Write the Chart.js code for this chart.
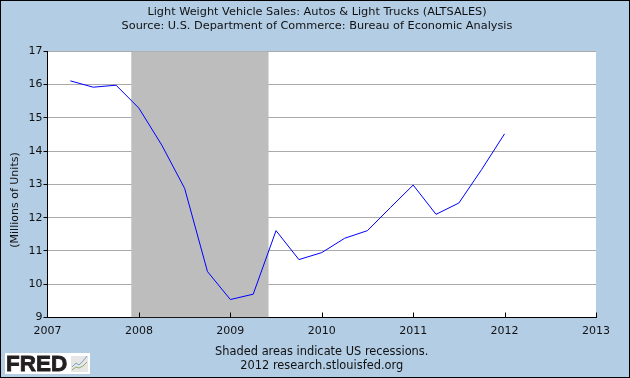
<!DOCTYPE html>
<html>
<head>
<meta charset="utf-8">
<title>ALTSALES</title>
<script src="https://cdn.jsdelivr.net/npm/chart.js@4/dist/chart.umd.min.js"></script>
<style>
	html, body { margin: 0; padding: 0; background: #b3cde5; }
	#wrap { width: 630px; height: 378px; }
</style>
</head>
<body>
<div id="wrap"><canvas id="c" width="630" height="378"></canvas></div>
<script>
// quarterly dates as decimal years
const quarters = [2007.25, 2007.5, 2007.75, 2008, 2008.25, 2008.5, 2008.75, 2009, 2009.25, 2009.5, 2009.75,
	2010, 2010.25, 2010.5, 2010.75, 2011, 2011.25, 2011.5, 2011.75, 2012];
const sales = [16.11, 15.92, 15.98, 15.29, 14.18, 12.88, 10.38, 9.54, 9.7, 11.61, 10.74,
	10.95, 11.38, 11.61, 12.3, 12.98, 12.1, 12.44, 13.45, 14.52];
const recessionYears = [2007.915, 2009.42];
const recessionTop = [17, 17];
const yearTicks = [2007, 2008, 2009, 2010, 2011, 2012, 2013];

const titleLines = ["Light Weight Vehicle Sales: Autos & Light Trucks (ALTSALES)",
	"Source: U.S. Department of Commerce: Bureau of Economic Analysis"];
const footerLines = ["Shaded areas indicate US recessions.", "2012 research.stlouisfed.org"];
const yAxisLabel = "(Millions of Units)";

const FONT = '"DejaVu Sans", sans-serif';
const BG = "#b3cde5";

const fredFrame = {
	id: "fredFrame",
	afterLayout(chart) {
		// title is centred on the window, not on the plot
		chart.titleBlock.left = 4;
		chart.titleBlock.right = 630;
	},
	beforeDraw(chart) {
		const ctx = chart.ctx;
		ctx.save();
		ctx.fillStyle = BG;
		ctx.fillRect(0, 0, 630, 378);
		ctx.fillStyle = "#fff";
		const a = chart.chartArea;
		ctx.fillRect(a.left, a.top, a.right - a.left, a.bottom - a.top);
		ctx.restore();
	},
	afterDraw(chart) {
		const ctx = chart.ctx;
		const xs = chart.scales.x;
		const bottom = chart.chartArea.bottom;
		ctx.save();
		// x ticks point inwards on this chart
		ctx.strokeStyle = "#000";
		ctx.lineWidth = 1;
		ctx.beginPath();
		yearTicks.slice(1).forEach((yr) => {
			const px = Math.round(xs.getPixelForValue(yr)) + 0.5;
			ctx.moveTo(px, bottom);
			ctx.lineTo(px, bottom - 5);
		});
		ctx.stroke();

		// outer frame
		ctx.strokeRect(0.5, 0.5, 629, 377);

		// y label sits below the middle of the axis, so the scale title can't place it
		ctx.save();
		ctx.translate(15, 200);
		ctx.rotate(-Math.PI / 2);
		ctx.fillStyle = "#111";
		ctx.font = "11px " + FONT;
		ctx.textAlign = "center";
		ctx.textBaseline = "middle";
		ctx.fillText(yAxisLabel, 0, 0);
		ctx.restore();

		// FRED logo
		ctx.fillStyle = "#fff";
		ctx.fillRect(5, 353, 85, 21);
		ctx.fillStyle = "#231f20";
		ctx.font = '900 22.5px "Liberation Sans", sans-serif';
		ctx.textBaseline = "alphabetic";
		ctx.textAlign = "left";
		ctx.lineWidth = 0.8;
		ctx.strokeStyle = "#231f20";
		ctx.fillText("FRED", 6, 371);
		ctx.strokeText("FRED", 6, 371);
		ctx.fillStyle = "#e6e6e6";
		ctx.fillRect(71, 356, 17, 16);
		ctx.lineWidth = 1;
		ctx.strokeStyle = "#7f9fbf";
		ctx.beginPath();
		ctx.moveTo(72, 367); ctx.lineTo(76, 363); ctx.lineTo(79, 365); ctx.lineTo(83, 361); ctx.lineTo(87, 356);
		ctx.stroke();
		ctx.strokeStyle = "#8fae6a";
		ctx.beginPath();
		ctx.moveTo(72, 370); ctx.lineTo(76, 367); ctx.lineTo(79, 368); ctx.lineTo(83, 366); ctx.lineTo(87, 362);
		ctx.stroke();
		ctx.restore();
	},
};

new Chart(document.getElementById("c"), {
	type: "line",
	data: {
		datasets: [
			{
				label: "ALTSALES",
				data: quarters.map((q, i) => ({ x: q, y: sales[i] })),
				borderColor: "#0000ff",
				borderWidth: 1,
				pointRadius: 0,
				tension: 0,
				fill: false,
				order: 1,
			},
			{
				label: "Recession",
				data: recessionYears.map((yr, i) => ({ x: yr, y: recessionTop[i] })),
				borderWidth: 0,
				pointRadius: 0,
				backgroundColor: "#bdbdbd",
				fill: "start",
				order: 2,
			},
		],
	},
	options: {
		responsive: false,
		animation: false,
		layout: { padding: { left: 4, right: 34, top: 0, bottom: 5 } },
		plugins: {
			legend: { display: false },
			tooltip: { enabled: false },
			title: {
				display: true,
				text: titleLines,
				color: "#111",
				font: { family: FONT, size: 11.3, weight: "normal", lineHeight: 1.25 },
				padding: { top: 5, bottom: 18 },
			},
			subtitle: {
				display: true,
				position: "bottom",
				fullSize: false,
				text: footerLines,
				color: "#111",
				font: { family: FONT, size: 11.4, weight: "normal", lineHeight: 1.25 },
				padding: { top: 0, bottom: 0 },
			},
		},
		scales: {
			x: {
				type: "linear",
				min: 2007,
				max: 2013,
				afterBuildTicks(scale) {
					scale.ticks = yearTicks.map((v) => ({ value: v }));
				},
				afterFit(scale) {
					scale.height = 27;
				},
				grid: { display: false, tickLength: 0 },
				border: { display: true, color: "#000", width: 1 },
				ticks: {
					color: "#111",
					font: { family: FONT, size: 11 },
					maxRotation: 0,
					autoSkip: false,
					padding: 7,
					callback: (v) => String(v),
				},
			},
			y: {
				min: 9,
				max: 17,
				afterFit(scale) {
					scale.width = 43.5;
				},
				grid: { color: "#aaaaaa", lineWidth: 1, tickColor: "#000", tickLength: 4 },
				border: { display: true, color: "#000", width: 1 },
				ticks: {
					stepSize: 1,
					color: "#111",
					font: { family: FONT, size: 11 },
					padding: 1,
				},
			},
		},
	},
	plugins: [fredFrame],
});
</script>
</body>
</html>
